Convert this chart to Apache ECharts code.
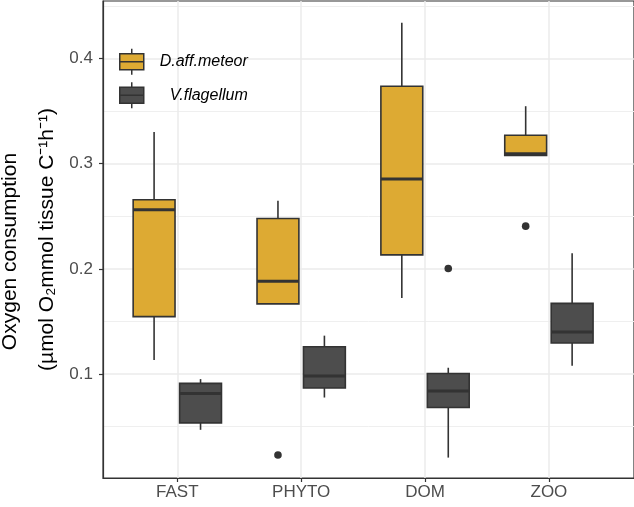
<!DOCTYPE html>
<html>
<head>
<meta charset="utf-8">
<script src="https://cdn.jsdelivr.net/npm/echarts@6/dist/echarts.min.js"></script>
<style>
  html, body { margin: 0; padding: 0; background: #fff; }
  #chart { width: 634px; height: 507px; }
</style>
</head>
<body>
<div id="chart"></div>
<script>
// categories on the x axis
var categories = ['FAST', 'PHYTO', 'DOM', 'ZOO'];
var seriesNames = ['D.aff.meteor', 'V.flagellum'];

// [min, Q1, median, Q3, max] per category
var meteorStats = [
    [0.1133, 0.1546, 0.2562, 0.2657, 0.3300],
    [0.1667, 0.1667, 0.1882, 0.2479, 0.2648],
    [0.1724, 0.2133, 0.2853, 0.3736, 0.4339],
    [0.3079, 0.3079, 0.3095, 0.3270, 0.3546]
];
var flagellumStats = [
    [0.0470, 0.0536, 0.0815, 0.0911, 0.0952],
    [0.0777, 0.0867, 0.0981, 0.1260, 0.1365],
    [0.0206, 0.0682, 0.0838, 0.1006, 0.1060],
    [0.1079, 0.1295, 0.1400, 0.1672, 0.2149]
];

// outliers: [category number, value]
var meteorOutliers = [[2, 0.0231], [4, 0.2406]];
var flagellumOutliers = [[3, 0.2003]];

var yTicks = [0.1, 0.2, 0.3, 0.4];
var yMinorTicks = [0.05, 0.15, 0.25, 0.35, 0.45];
var xTicks = [1, 2, 3, 4];

var gold = '#DDAA33';
var dark = '#4D4D4D';
var edge = '#333333';
var font = 'Liberation Sans, Arial, sans-serif';
var halfW = 0.169;
var dodge = 0.1875;

function boxRender(offset, fill) {
    return function (params, api) {
        var x = api.value(0) + offset;
        var pMin = api.coord([x, api.value(1)]);
        var pQ1 = api.coord([x, api.value(2)]);
        var pMed = api.coord([x, api.value(3)]);
        var pQ3 = api.coord([x, api.value(4)]);
        var pMax = api.coord([x, api.value(5)]);
        var left = api.coord([x - halfW, api.value(3)])[0];
        var right = api.coord([x + halfW, api.value(3)])[0];
        return {
            type: 'group',
            children: [
                {type: 'line', shape: {x1: pQ3[0], y1: pQ3[1], x2: pMax[0], y2: pMax[1]},
                    style: {stroke: edge, lineWidth: 1.6}},
                {type: 'line', shape: {x1: pQ1[0], y1: pQ1[1], x2: pMin[0], y2: pMin[1]},
                    style: {stroke: edge, lineWidth: 1.6}},
                {type: 'rect', shape: {x: left, y: pQ3[1], width: right - left, height: pQ1[1] - pQ3[1]},
                    style: {fill: fill, stroke: edge, lineWidth: 1.6}},
                {type: 'line', shape: {x1: left, y1: pMed[1], x2: right, y2: pMed[1]},
                    style: {stroke: edge, lineWidth: 3}}
            ]
        };
    };
}

function dotRender(offset) {
    return function (params, api) {
        var p = api.coord([api.value(0) + offset, api.value(1)]);
        return {type: 'circle', shape: {cx: p[0], cy: p[1], r: 3.8}, style: {fill: edge}};
    };
}

function statRows(stats) {
    var rows = [];
    for (var i = 0; i < stats.length; i++) {
        rows.push([i + 1].concat(stats[i]));
    }
    return rows;
}

var chart = echarts.init(document.getElementById('chart'));
var option = {
    backgroundColor: '#fff',
    animation: false,
    grid: {
        left: 103, top: 1, width: 531, height: 477,
        outerBoundsMode: 'none', containLabel: false,
        show: true, borderColor: edge, borderWidth: 1.2
    },
    legend: {
        data: seriesNames,
        orient: 'vertical',
        left: 119,
        top: 48,
        padding: 0,
        itemGap: 6,
        itemWidth: 24,
        itemHeight: 26,
        icon: 'path://M12,0V5M0,5H24V21H0ZM0,13H24M12,21V26',
        itemStyle: {borderColor: edge, borderWidth: 1.5},
        formatter: function (name) { return '{n|' + name + '}'; },
        textStyle: {
            rich: {n: {width: 99, align: 'right', fontStyle: 'italic', fontSize: 16, fontFamily: font, color: '#000'}}
        }
    },
    xAxis: {
        type: 'value',
        min: 0.4,
        max: 4.687,
        axisLine: {show: true, lineStyle: {color: edge, width: 1.2}},
        axisTick: {show: true, length: 4, customValues: xTicks, lineStyle: {color: edge, width: 1.2}},
        axisLabel: {
            customValues: xTicks, margin: 6, fontSize: 17, fontFamily: font, color: '#4D4D4D',
            formatter: function (v) { return categories[Math.round(v) - 1] || ''; }
        },
        splitLine: {show: true, lineStyle: {color: '#EBEBEB', width: 1.5}}
    },
    yAxis: [{
        type: 'value',
        min: 0.0012,
        max: 0.4546,
        name: '{a|Oxygen consumption}\n{b|(µmol O₂mmol tissue C⁻¹h⁻¹)}',
        nameLocation: 'middle',
        nameRotate: 90,
        nameGap: 37,
        nameTextStyle: {
            rich: {
                a: {fontSize: 21, lineHeight: 37, fontFamily: font, color: '#000', padding: [0, 24, 0, 0]},
                b: {fontSize: 21, lineHeight: 37, fontFamily: font, color: '#000'}
            }
        },
        axisLine: {show: true, lineStyle: {color: edge, width: 1.2}},
        axisTick: {show: true, length: 4, customValues: yTicks, lineStyle: {color: edge, width: 1.2}},
        axisLabel: {customValues: yTicks, margin: 10, fontSize: 17, fontFamily: font, color: '#4D4D4D'},
        splitLine: {show: true, lineStyle: {color: '#EBEBEB', width: 1.5}}
    }, {
        type: 'value',
        min: 0.0012,
        max: 0.4546,
        axisLine: {show: false},
        axisTick: {show: false, customValues: yMinorTicks},
        axisLabel: {show: false, customValues: yMinorTicks},
        splitLine: {show: true, lineStyle: {color: '#EFEFEF', width: 1}}
    }],
    series: [{
        name: seriesNames[0],
        type: 'custom',
        itemStyle: {color: gold},
        encode: {x: 0, y: [1, 2, 3, 4, 5]},
        renderItem: boxRender(-dodge, gold),
        data: statRows(meteorStats)
    }, {
        name: seriesNames[1],
        type: 'custom',
        itemStyle: {color: dark},
        encode: {x: 0, y: [1, 2, 3, 4, 5]},
        renderItem: boxRender(dodge, dark),
        data: statRows(flagellumStats)
    }, {
        name: 'meteor outliers',
        type: 'custom',
        encode: {x: 0, y: 1},
        renderItem: dotRender(-dodge),
        data: meteorOutliers,
        z: 3
    }, {
        name: 'flagellum outliers',
        type: 'custom',
        encode: {x: 0, y: 1},
        renderItem: dotRender(dodge),
        data: flagellumOutliers,
        z: 3
    }]
};
chart.setOption(option);
</script>
</body>
</html>
